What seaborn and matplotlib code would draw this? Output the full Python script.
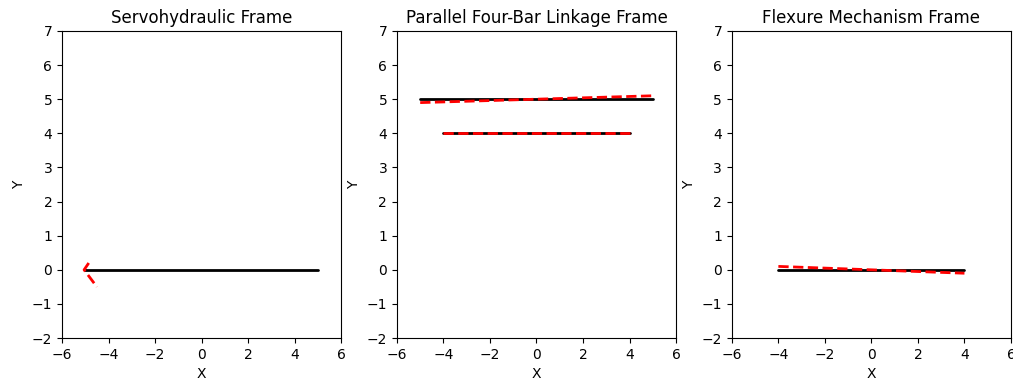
import matplotlib
matplotlib.use("Agg")
import matplotlib.pyplot as plt
import seaborn as sns
import pandas as pd

# --- dados ---
titulos = ['Servohydraulic Frame', 'Parallel Four-Bar Linkage Frame', 'Flexure Mechanism Frame']

# quadro 1
servo_x = [-5, 5]
servo_y = [0, 0]
servo_def_x = [-4.85, -5.05, -4.5]
servo_def_y = [0.2, 0.0, -0.5]

# quadro 2 (duas barras)
barra_sup_x = [-5, 5]
barra_sup_y = [5, 5]
barra_sup_def_y = [4.9, 5.1]
barra_inf_x = [-4, 4]
barra_inf_y = [4, 4]
barra_inf_def_y = [4, 4]

# quadro 3
flex_x = [-4, 4]
flex_y = [0, 0]
flex_def_y = [0.1, -0.1]

sns.set_style('ticks', rc={'axes.edgecolor': 'black', 'text.color': 'black',
                           'xtick.color': 'black', 'ytick.color': 'black',
                           'axes.labelcolor': 'black'})
plt.rcParams['font.family'] = ['DejaVu Sans']

fig, axes = plt.subplots(1, 3, figsize=(10.13, 3.82), dpi=100)


def linha(ax, x, y, def_x, def_y):
    df = pd.DataFrame({'x': x, 'y': y})
    dd = pd.DataFrame({'x': def_x, 'y': def_y})
    sns.lineplot(data=df, x='x', y='y', ax=ax, color='black', linewidth=2, sort=False)
    sns.lineplot(data=dd, x='x', y='y', ax=ax, color='red', linewidth=2, linestyle='--', sort=False)


linha(axes[0], servo_x, servo_y, servo_def_x, servo_def_y)
linha(axes[1], barra_sup_x, barra_sup_y, barra_sup_x, barra_sup_def_y)
linha(axes[1], barra_inf_x, barra_inf_y, barra_inf_x, barra_inf_def_y)
linha(axes[2], flex_x, flex_y, flex_x, flex_def_y)

for ax, t in zip(axes, titulos):
    ax.set_xlim(-6, 6)
    ax.set_ylim(-2, 7)
    ax.set_title(t)
    ax.set_xlabel('X')
    ax.set_ylabel('Y')
    for s in ax.spines.values():
        s.set_visible(True)
        s.set_linewidth(0.8)

plt.subplots_adjust(left=0.0612, right=0.998, top=0.919, bottom=0.115, wspace=0.2)
plt.savefig('out.png')
